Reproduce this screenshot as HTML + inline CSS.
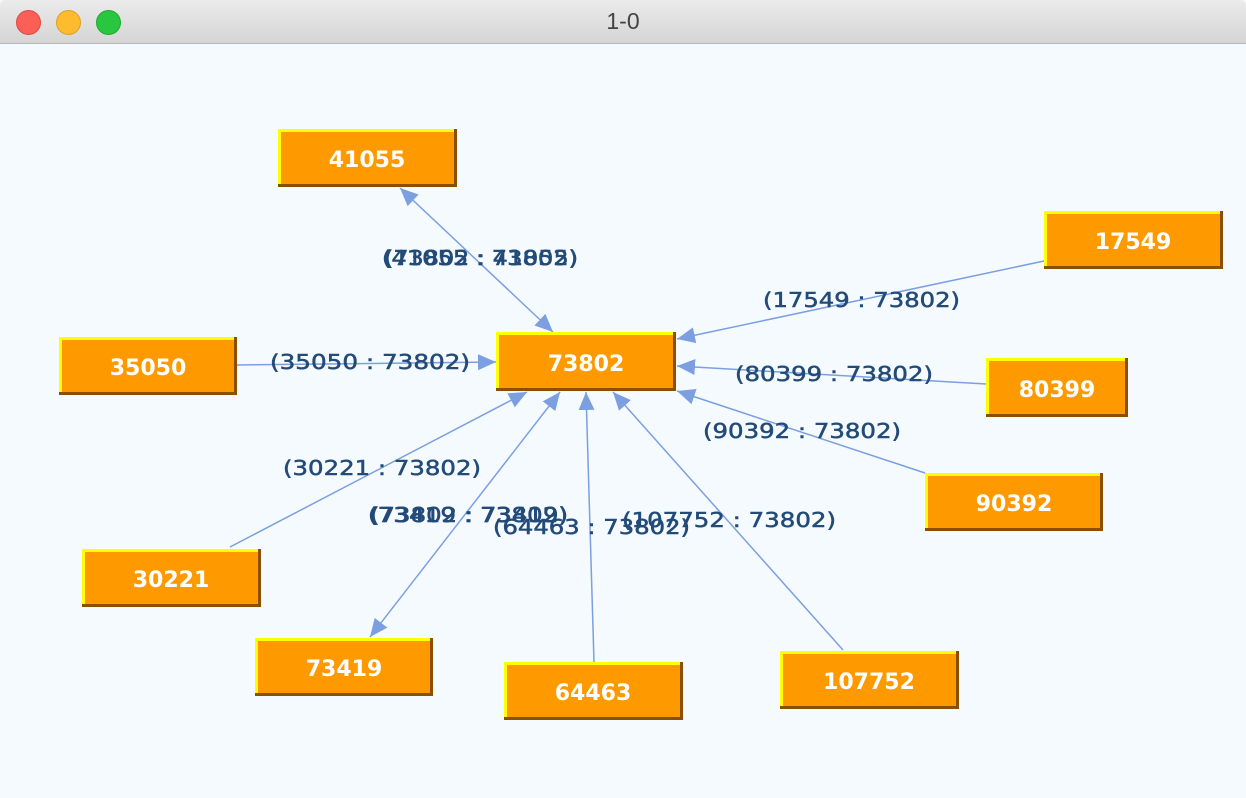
<!DOCTYPE html>
<html><head><meta charset="utf-8"><style>
html,body{margin:0;padding:0;width:1246px;height:798px;overflow:hidden;background:#f5faff}
#bar{position:absolute;left:0;top:0;width:1246px;height:43px;background:linear-gradient(#ebebeb,#d5d5d5);border-bottom:1px solid #b8b8b8;border-radius:5px 5px 0 0}
.dot{position:absolute;top:10px;width:23px;height:23px;border-radius:50%}
#title{position:absolute;left:0;width:1246px;top:8px;text-align:center;font:23px "Liberation Sans",sans-serif;color:#444}
svg{position:absolute;left:0;top:0}
</style></head><body>
<div id="bar">
<div class="dot" style="left:16px;background:#fc5f57;border:1px solid #de4a42"></div>
<div class="dot" style="left:56px;background:#fdbc2e;border:1px solid #dea123"></div>
<div class="dot" style="left:96px;background:#29c740;border:1px solid #1eaa2f"></div>
<div id="title">1-0</div>
</div>
<svg width="1246" height="798" viewBox="0 0 1246 798">
<defs>
<marker id="a" markerUnits="userSpaceOnUse" markerWidth="20" markerHeight="18" refX="18" refY="8" orient="auto">
<path d="M0,0 L18,8 L0,16 Z" fill="#7b9fe0"/>
</marker>
<marker id="s" markerUnits="userSpaceOnUse" markerWidth="20" markerHeight="18" refX="0" refY="8" orient="auto">
<path d="M18,0 L0,8 L18,16 Z" fill="#7b9fe0"/>
</marker>
</defs>
<g stroke="#7b9fe0" stroke-width="1.5" fill="none">
<line x1="400" y1="188" x2="553" y2="332" marker-start="url(#s)" marker-end="url(#a)"/>
<line x1="237" y1="365" x2="496" y2="362" marker-end="url(#a)"/>
<line x1="1044" y1="261" x2="677" y2="339" marker-end="url(#a)"/>
<line x1="986" y1="384" x2="677" y2="366" marker-end="url(#a)"/>
<line x1="925" y1="473" x2="677" y2="391" marker-end="url(#a)"/>
<line x1="230" y1="547" x2="527" y2="392" marker-end="url(#a)"/>
<line x1="370" y1="637" x2="560" y2="392" marker-start="url(#s)" marker-end="url(#a)"/>
<line x1="594" y1="662" x2="586" y2="392" marker-end="url(#a)"/>
<line x1="843" y1="650" x2="613" y2="392" marker-end="url(#a)"/>
</g>
<g font-family="'DejaVu Sans',sans-serif" font-size="20" fill="#234b78" stroke="#234b78" stroke-width="0.5">
<text x="382" y="265" textLength="196" lengthAdjust="spacingAndGlyphs">(41055 : 73802)</text>
<text x="384" y="265" textLength="194" lengthAdjust="spacingAndGlyphs">(73802 : 41055)</text>
<text x="270" y="369" textLength="200" lengthAdjust="spacingAndGlyphs">(35050 : 73802)</text>
<text x="763" y="307" textLength="197" lengthAdjust="spacingAndGlyphs">(17549 : 73802)</text>
<text x="735" y="381" textLength="198" lengthAdjust="spacingAndGlyphs">(80399 : 73802)</text>
<text x="703" y="438" textLength="198" lengthAdjust="spacingAndGlyphs">(90392 : 73802)</text>
<text x="283" y="475" textLength="198" lengthAdjust="spacingAndGlyphs">(30221 : 73802)</text>
<text x="368" y="522" textLength="200" lengthAdjust="spacingAndGlyphs">(73419 : 73802)</text>
<text x="370" y="522" textLength="198" lengthAdjust="spacingAndGlyphs">(73802 : 73419)</text>
<text x="622" y="527" textLength="214" lengthAdjust="spacingAndGlyphs">(107752 : 73802)</text>
<text x="493" y="534" textLength="197" lengthAdjust="spacingAndGlyphs">(64463 : 73802)</text>
</g>
<g font-family="'DejaVu Sans','Liberation Sans',sans-serif" font-size="22" font-weight="bold" fill="#fff" text-anchor="middle">
<g transform="translate(278,129)"><rect width="179" height="58" fill="#8a5000"/><rect width="176" height="55" fill="#ffff00"/><rect x="3" y="3" width="173" height="52" fill="#ff9900"/><text x="89" y="38">41055</text></g>
<g transform="translate(496,332)"><rect width="180" height="59" fill="#8a5000"/><rect width="177" height="56" fill="#ffff00"/><rect x="3" y="3" width="174" height="53" fill="#ff9900"/><text x="90" y="39">73802</text></g>
<g transform="translate(1044,211)"><rect width="179" height="58" fill="#8a5000"/><rect width="176" height="55" fill="#ffff00"/><rect x="3" y="3" width="173" height="52" fill="#ff9900"/><text x="89" y="38">17549</text></g>
<g transform="translate(59,337)"><rect width="178" height="58" fill="#8a5000"/><rect width="175" height="55" fill="#ffff00"/><rect x="3" y="3" width="172" height="52" fill="#ff9900"/><text x="89" y="38">35050</text></g>
<g transform="translate(986,358)"><rect width="142" height="59" fill="#8a5000"/><rect width="139" height="56" fill="#ffff00"/><rect x="3" y="3" width="136" height="53" fill="#ff9900"/><text x="71" y="39">80399</text></g>
<g transform="translate(925,473)"><rect width="178" height="58" fill="#8a5000"/><rect width="175" height="55" fill="#ffff00"/><rect x="3" y="3" width="172" height="52" fill="#ff9900"/><text x="89" y="38">90392</text></g>
<g transform="translate(82,549)"><rect width="179" height="58" fill="#8a5000"/><rect width="176" height="55" fill="#ffff00"/><rect x="3" y="3" width="173" height="52" fill="#ff9900"/><text x="89" y="38">30221</text></g>
<g transform="translate(255,638)"><rect width="178" height="58" fill="#8a5000"/><rect width="175" height="55" fill="#ffff00"/><rect x="3" y="3" width="172" height="52" fill="#ff9900"/><text x="89" y="38">73419</text></g>
<g transform="translate(504,662)"><rect width="179" height="58" fill="#8a5000"/><rect width="176" height="55" fill="#ffff00"/><rect x="3" y="3" width="173" height="52" fill="#ff9900"/><text x="89" y="38">64463</text></g>
<g transform="translate(780,651)"><rect width="179" height="58" fill="#8a5000"/><rect width="176" height="55" fill="#ffff00"/><rect x="3" y="3" width="173" height="52" fill="#ff9900"/><text x="89" y="38">107752</text></g>
</g>
</svg>
</body></html>
